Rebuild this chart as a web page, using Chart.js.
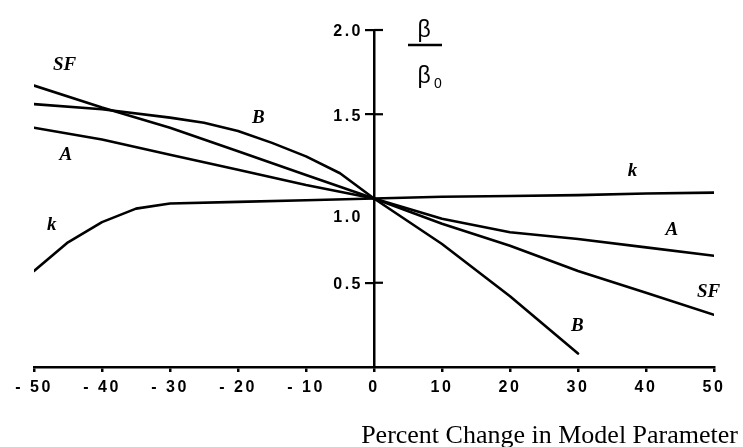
<!DOCTYPE html>
<html lang="en">
<head>
  <meta charset="UTF-8">
  <title>Sensitivity</title>
  <style>
    html, body { margin: 0; padding: 0; background: #fff; }
    #wrap { width: 743px; height: 447px; }
  </style>
</head>
<body>

<div id="wrap">
  <canvas id="myChart"></canvas>
</div>

<script src="https://cdn.jsdelivr.net/npm/chart.js"></script>

<script>
  // percent change in model parameter (x)
  const pctChange = [-50, -45, -40, -35, -30, -25, -20, -15, -10, -5, 0, 5, 10, 15, 20, 25, 30, 35, 40, 45, 50];

  // beta / beta0 for each parameter (null = no reading there)
  const sfValues = [1.67, null, 1.54, null, 1.42, null, 1.28, null, 1.14, null, 1.0, null, 0.85, null, 0.72, null, 0.57, null, 0.44, null, 0.31];
  const aValues  = [1.42, null, 1.35, null, 1.26, null, 1.17, null, 1.08, null, 1.0, null, 0.88, null, 0.80, null, 0.76, null, 0.71, null, 0.66];
  const bValues  = [1.56, null, 1.53, null, 1.48, 1.45, 1.40, 1.33, 1.25, 1.15, 1.0, null, 0.73, null, 0.42, null, 0.08, null, null, null, null];
  const kValues  = [0.57, 0.74, 0.86, 0.94, 0.97, null, 0.98, null, 0.99, null, 1.0, null, 1.01, null, 1.015, null, 1.02, null, 1.03, null, 1.035];

  const seriesNames = ['SF', 'A', 'B', 'k'];
  const yTicks = [0.5, 1.0, 1.5, 2.0];

  // where the curve names are written (data coords)
  const labelSpots = [
    {text: 'SF', x: -45.5, y: 1.79},
    {text: 'A',  x: -45.3, y: 1.26},
    {text: 'B',  x: -17.0, y: 1.48},
    {text: 'k',  x: -47.4, y: 0.84},
    {text: 'k',  x: 38.0,  y: 1.16},
    {text: 'A',  x: 43.8,  y: 0.81},
    {text: 'SF', x: 49.2,  y: 0.445},
    {text: 'B',  x: 29.9,  y: 0.24}
  ];

  const toPoints = arr => pctChange.map((x, i) => ({x: x, y: arr[i]}));

  const data = {
    datasets: [sfValues, aValues, bValues, kValues].map((arr, i) => ({
      label: seriesNames[i],
      data: toPoints(arr),
      borderColor: '#000',
      borderWidth: 2.6,
      pointRadius: 0,
      tension: 0,
      spanGaps: true,
      borderCapStyle: 'round',
      borderJoinStyle: 'round'
    }))
  };

  const sansBold = '"Liberation Sans", Arial, sans-serif';

  const sketchText = {
    id: 'sketchText',
    beforeDraw(chart) {
      chart.ctx.letterSpacing = '2.5px';
    },
    afterDraw(chart) {
      const {ctx, scales: {x, y}} = chart;
      ctx.save();
      ctx.fillStyle = '#000';
      ctx.strokeStyle = '#000';

      // other half of the y tick marks
      const x0 = x.getPixelForValue(0);
      ctx.lineWidth = 2.2;
      [0.5, 1.5, 2.0].forEach(v => {
        const py = y.getPixelForValue(v);
        ctx.beginPath();
        ctx.moveTo(x0, py);
        ctx.lineTo(x0 + 9, py);
        ctx.stroke();
      });

      // y tick labels (1.0 sits a little low in the original)
      ctx.letterSpacing = '2.5px';
      ctx.font = 'bold 16px ' + sansBold;
      ctx.textAlign = 'right';
      ctx.textBaseline = 'middle';
      yTicks.forEach(v => {
        const py = y.getPixelForValue(v) + (v === 1 ? 19 : 2);
        ctx.fillText(v.toFixed(1), x0 - 11, py);
      });
      ctx.letterSpacing = '0px';

      // curve names
      ctx.font = 'italic bold 19px "Liberation Serif", serif';
      ctx.textAlign = 'center';
      ctx.textBaseline = 'middle';
      labelSpots.forEach(s => {
        ctx.fillText(s.text, x.getPixelForValue(s.x), y.getPixelForValue(s.y));
      });

      // beta / beta0
      ctx.font = '23px "Liberation Sans", sans-serif';
      ctx.textBaseline = 'alphabetic';
      ctx.fillText('\u03B2', 424, 37);
      ctx.fillText('\u03B2', 424, 83);
      ctx.font = '14px "Liberation Sans", sans-serif';
      ctx.fillText('0', 438, 88);
      ctx.lineWidth = 2.5;
      ctx.beginPath();
      ctx.moveTo(408, 45);
      ctx.lineTo(442, 45);
      ctx.stroke();

      // x axis title
      ctx.font = '26px "Liberation Serif", serif';
      ctx.textAlign = 'right';
      ctx.fillText('Percent Change in Model Parameter', 738, 443);
      ctx.restore();
    }
  };

  const ctx = document.getElementById('myChart').getContext('2d');
  const myChart = new Chart(ctx, {
    type: 'line',
    data: data,
    plugins: [sketchText],
    options: {
      responsive: true,
      maintainAspectRatio: false,
      animation: false,
      layout: { padding: { left: 34, right: 29, top: 30, bottom: 0 } },
      plugins: {
        legend: { display: false },
        tooltip: { enabled: false }
      },
      scales: {
        x: {
          type: 'linear',
          position: 'bottom',
          min: -50,
          max: 50,
          afterFit(scale) { scale.height = 80; },
          border: { display: true, color: '#000', width: 2.5 },
          grid: { drawOnChartArea: false, drawTicks: true, tickLength: 5, color: '#000', lineWidth: 2.5 },
          ticks: {
            stepSize: 10,
            color: '#000',
            padding: 6,
            maxRotation: 0,
            font: { family: sansBold, size: 16, weight: 'bold' },
            callback: v => v < 0 ? '- ' + (-v) : String(v)
          }
        },
        y: {
          type: 'linear',
          position: { x: 0 },
          min: 0,
          max: 2,
          border: { display: true, color: '#000', width: 2.5 },
          grid: {
            drawOnChartArea: false,
            drawTicks: true,
            tickLength: 8,
            lineWidth: 2.2,
            color: c => (c.tick && (c.tick.value === 0 || c.tick.value === 1)) ? 'rgba(0,0,0,0)' : '#000'
          },
          ticks: {
            display: false,
            stepSize: 0.5
          }
        }
      }
    }
  });
</script>
</body>
</html>
